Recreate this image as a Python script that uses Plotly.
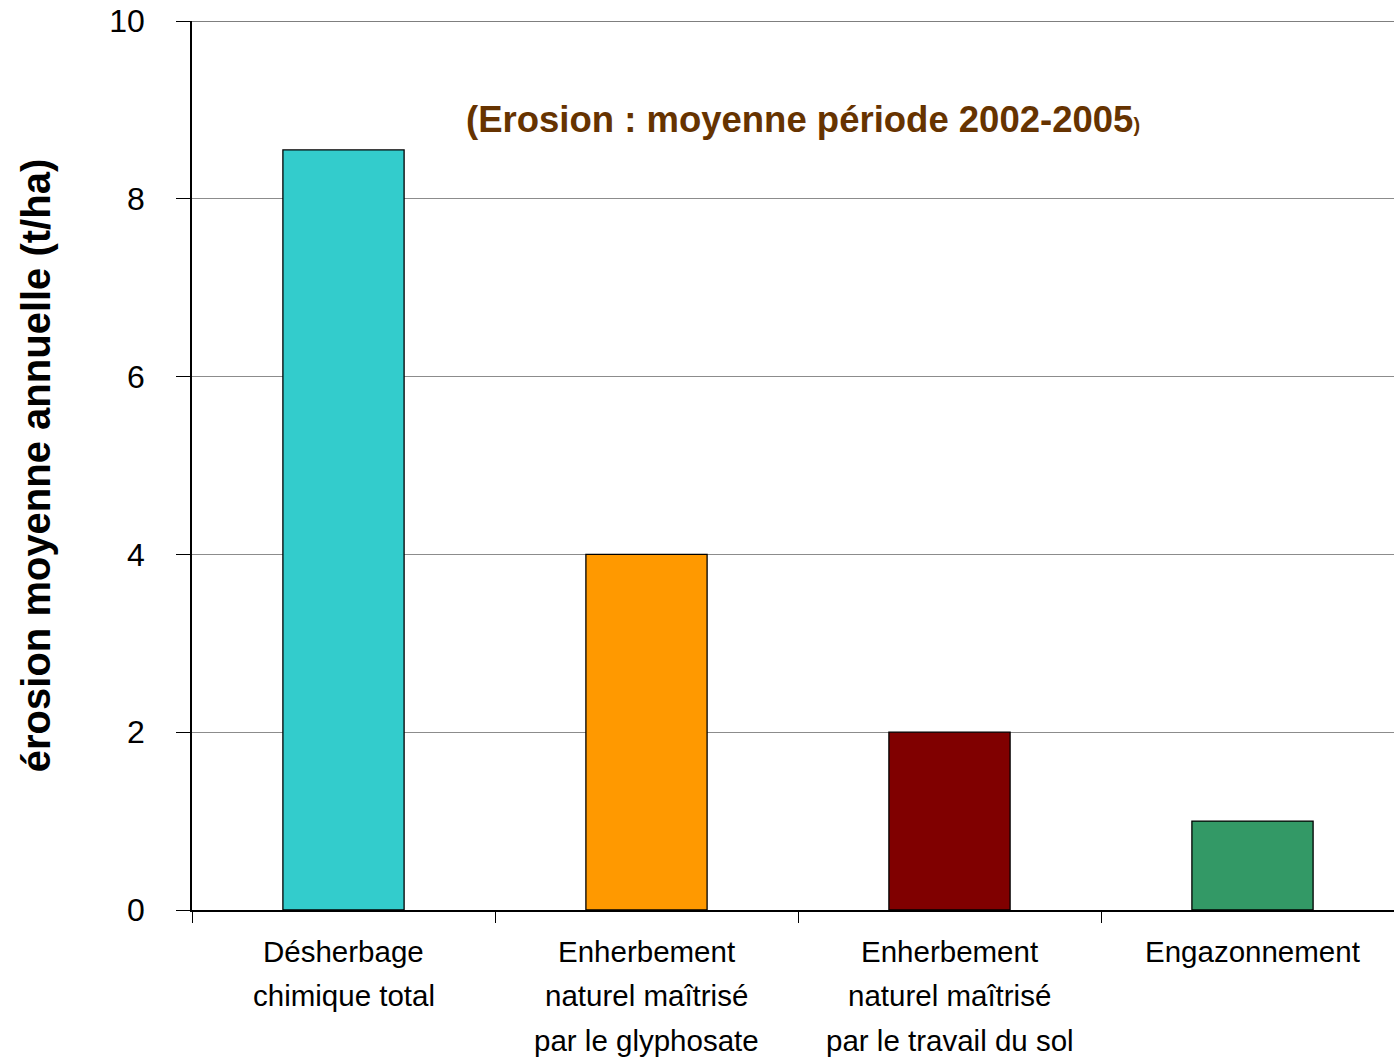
import plotly.graph_objects as go

categories = ["Désherbage\nchimique total",
              "Enherbement\nnaturel maîtrisé\npar le glyphosate",
              "Enherbement\nnaturel maîtrisé\npar le travail du sol",
              "Engazonnement"]
values = [8.55, 4.0, 2.0, 1.0]
colors = ["#33CCCC", "#FF9900", "#800000", "#339966"]
y_ticks = [0, 2, 4, 6, 8, 10]
y_title = "érosion moyenne annuelle (t/ha)"
title_main = "(Erosion : moyenne période 2002-2005"
title_end = ")"

FONT = "Liberation Sans, Arial, sans-serif"

fig = go.Figure()
fig.add_trace(go.Bar(
    x=categories, y=values, width=0.4,
    marker=dict(color=colors, line=dict(color="#000000", width=1.3)),
    hoverinfo="skip",
))

annotations = []
line_offsets = [41, 85, 130]
for cat in categories:
    for j, line in enumerate(cat.split("\n")):
        annotations.append(dict(
            x=cat, y=0, xref="x", yref="paper", text=line, showarrow=False,
            xanchor="center", yanchor="middle", yshift=-line_offsets[j],
            font=dict(family=FONT, size=29.5, color="#000000"),
        ))

annotations.append(dict(
    x=0.508, y=0.889, xref="paper", yref="paper", showarrow=False,
    xanchor="center", yanchor="middle",
    text=title_main + "<span style='font-size:20px'>" + title_end + "</span>",
    font=dict(family=FONT, size=36.5, color="#663300", weight="bold"),
))

fig.update_layout(
    width=1394, height=1057,
    margin=dict(l=192, r=0, t=21, b=147),
    paper_bgcolor="#FFFFFF", plot_bgcolor="#FFFFFF",
    showlegend=False,
    annotations=annotations,
    font=dict(family=FONT, color="#000000"),
)

fig.update_xaxes(
    type="category",
    range=[-0.5, 3.467],
    showticklabels=False,
    tickson="boundaries", ticks="outside", ticklen=11, tickcolor="#000000", tickwidth=1,
    showline=True, linecolor="#000000", linewidth=1.5,
    showgrid=False, zeroline=False,
)

fig.update_yaxes(
    range=[0, 10], tickmode="array", tickvals=y_ticks,
    ticks="outside", ticklen=14, tickcolor="#000000", tickwidth=1,
    showline=True, linecolor="#000000", linewidth=1.5,
    showgrid=True, gridcolor="#8C8C8C", gridwidth=1,
    zeroline=False,
    tickfont=dict(size=32, family=FONT),
    ticklabelstandoff=25,
    ticklabeloverflow="allow",
    title=dict(text=y_title, font=dict(size=40, family=FONT, weight="bold"), standoff=46),
)

fig.add_shape(type="line", xref="paper", yref="y", x0=0, x1=1, y0=10, y1=10,
              line=dict(color="#555555", width=1.5))

fig.write_html("out.html",
               config={"displayModeBar": False},
               post_script="document.body.style.margin='0';document.body.style.overflow='hidden';")
